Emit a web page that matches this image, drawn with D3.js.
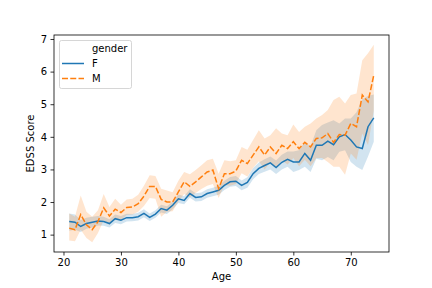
<!DOCTYPE html>
<html><head><meta charset="utf-8">
<script src="https://cdn.jsdelivr.net/npm/d3@7"></script>
<style>body{margin:0;background:#fff}svg{display:block}text{font-family:"DejaVu Sans",sans-serif;font-size:10px;fill:#000}</style>
</head><body><svg id="c" width="432" height="288"></svg>
<script>
const ages = d3.range(21, 75);
const fMean = [1.40,1.38,1.25,1.34,1.38,1.42,1.40,1.34,1.49,1.44,1.52,1.52,1.55,1.65,1.53,1.63,1.80,1.75,1.90,2.10,2.05,2.26,2.14,2.16,2.26,2.31,2.36,2.51,2.62,2.64,2.51,2.60,2.87,3.03,3.12,3.20,3.06,3.22,3.31,3.23,3.23,3.49,3.28,3.74,3.74,3.87,3.76,4.00,4.07,3.90,3.69,3.64,4.31,4.58];
const fLo = [1.12,1.15,1.08,1.18,1.22,1.28,1.27,1.22,1.36,1.32,1.40,1.41,1.43,1.53,1.42,1.52,1.68,1.63,1.78,1.97,1.93,2.13,2.02,2.03,2.13,2.18,2.22,2.37,2.47,2.49,2.36,2.44,2.70,2.86,2.93,3.00,2.86,3.00,3.08,2.92,2.98,3.08,2.92,3.33,3.28,3.38,3.28,3.54,3.59,3.23,3.08,2.98,3.40,3.85];
const fHi = [1.65,1.62,1.45,1.52,1.55,1.57,1.55,1.47,1.62,1.57,1.64,1.63,1.67,1.78,1.65,1.75,1.92,1.87,2.02,2.23,2.18,2.39,2.27,2.29,2.39,2.44,2.50,2.65,2.77,2.80,2.66,2.76,3.04,3.21,3.31,3.40,3.27,3.45,3.55,3.55,3.59,3.85,3.70,4.20,4.36,4.44,4.51,4.41,4.56,4.56,4.75,5.15,5.25,5.30];
const mMean = [1.20,1.15,1.62,1.30,1.15,1.40,1.82,1.57,1.78,1.68,1.83,1.85,1.95,2.18,2.48,2.48,2.08,2.00,2.00,2.31,2.62,2.48,2.62,2.77,2.92,2.98,2.41,2.87,2.87,2.95,3.28,3.18,3.44,3.69,3.44,3.69,3.49,3.74,3.64,3.85,3.64,3.83,3.69,3.95,3.97,4.10,3.83,4.07,4.05,4.41,4.31,5.28,5.07,5.89];
const mLo = [0.82,0.80,1.15,0.90,0.77,1.05,1.45,1.30,1.50,1.45,1.60,1.62,1.70,1.88,2.12,2.10,1.55,1.70,1.72,2.02,2.25,2.15,2.28,2.40,2.50,2.55,2.12,2.52,2.50,2.55,2.88,2.78,3.05,3.25,3.00,3.22,3.05,3.28,3.15,3.35,3.10,3.30,3.10,3.35,3.35,3.23,3.08,3.08,2.84,3.49,3.30,4.10,3.75,4.80];
const mHi = [1.65,1.55,2.20,1.70,1.55,1.75,2.25,1.85,2.10,1.92,2.08,2.10,2.22,2.50,2.82,2.80,2.41,2.35,2.30,2.65,2.92,2.85,2.98,3.13,3.28,3.33,2.87,3.28,3.25,3.28,3.69,3.60,3.90,4.20,3.95,4.05,4.26,4.10,4.05,4.38,4.15,4.31,4.41,4.56,4.67,4.82,5.13,5.23,5.02,5.28,5.33,6.35,6.56,6.82];
const groups = ["F", "M"];
const xTicks = [20,30,40,50,60,70];
const yTicks = [1,2,3,4,5,6,7];

const series = [
  {name: groups[0], mean: fMean, lo: fLo, hi: fHi, color: "#1f77b4", dash: null},
  {name: groups[1], mean: mMean, lo: mLo, hi: mHi, color: "#ff7f0e", dash: "6,2.25"}
];

const L = 54, R = 389, T = 35, B = 252;
const svg = d3.select("#c");
const xExt = d3.extent(ages), xPad = (xExt[1]-xExt[0])*0.05;
const x = d3.scaleLinear().domain([xExt[0]-xPad, xExt[1]+xPad]).range([L, R]);
const yMin = d3.min([...fLo, ...mLo]), yMax = d3.max([...fHi, ...mHi]);
const yPad = (yMax - yMin)*0.05;
const y = d3.scaleLinear().domain([yMin - yPad, yMax + yPad]).range([B, T]);

const g = svg.append("g");
series.forEach(s => {
  const area = d3.area().x((d,i)=>x(ages[i])).y0((d,i)=>y(s.lo[i])).y1((d,i)=>y(s.hi[i]));
  g.append("path").datum(s.mean).attr("d", area).attr("fill", s.color).attr("fill-opacity", 0.2).attr("stroke","none");
});
series.forEach(s => {
  const line = d3.line().x((d,i)=>x(ages[i])).y(d=>y(d));
  g.append("path").datum(s.mean).attr("d", line).attr("fill","none").attr("stroke", s.color)
    .attr("stroke-width",1.5).attr("stroke-dasharray", s.dash).attr("stroke-linecap","butt");
});

// axes
const xa = svg.append("g").attr("transform",`translate(0,${B})`)
  .call(d3.axisBottom(x).tickValues(xTicks).tickSize(3.5).tickPadding(3.5).tickFormat(d3.format("d")));
const ya = svg.append("g").attr("transform",`translate(${L},0)`)
  .call(d3.axisLeft(y).tickValues(yTicks).tickSize(3.5).tickPadding(3.5).tickFormat(d3.format("d")));
[xa, ya].forEach(a => {
  a.select(".domain").remove();
  a.selectAll("line").attr("stroke","#000").attr("stroke-width",0.8);
  a.selectAll("text").attr("font-size",10).attr("font-family","DejaVu Sans").attr("fill","#000");
});
svg.append("rect").attr("x",L).attr("y",T).attr("width",R-L).attr("height",B-T)
  .attr("fill","none").attr("stroke","#000").attr("stroke-width",0.8);

svg.append("text").attr("x",(L+R)/2).attr("y",280).attr("text-anchor","middle").text("Age");
svg.append("text").attr("transform",`translate(34,${(T+B)/2}) rotate(-90)`).attr("text-anchor","middle").text("EDSS Score");

// legend
const lg = svg.append("g");
lg.append("rect").attr("x",59.5).attr("y",40.5).attr("width",72).attr("height",48).attr("rx",2)
  .attr("fill","#fff").attr("fill-opacity",0.8).attr("stroke","#ccc").attr("stroke-width",0.8);
lg.append("text").attr("x",92).attr("y",52).text("gender");
series.forEach((s,i) => {
  const yy = 63.5 + i*15;
  lg.append("line").attr("x1",62).attr("x2",84).attr("y1",yy).attr("y2",yy)
    .attr("stroke",s.color).attr("stroke-width",1.5).attr("stroke-dasharray",s.dash);
  lg.append("text").attr("x",92).attr("y",yy+3.6).text(s.name);
});
</script></body></html>
